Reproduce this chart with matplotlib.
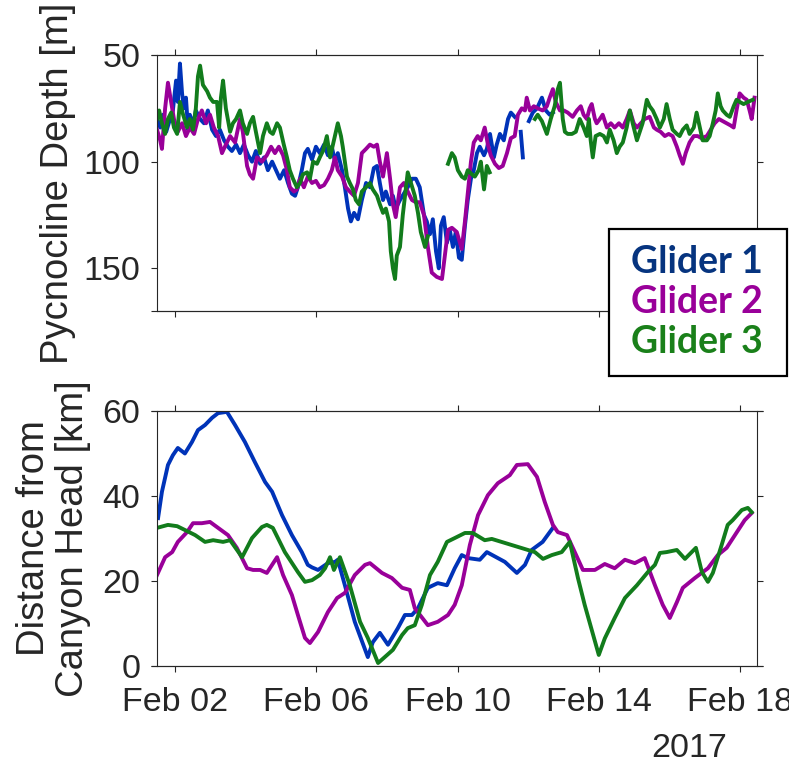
import numpy as np
import pandas as pd
import matplotlib
matplotlib.use("Agg")
import matplotlib.pyplot as plt
import matplotlib.dates as mdates
from matplotlib.patches import Rectangle

plt.rcParams["font.family"] = ["Liberation Sans", "DejaVu Sans"]

nan = np.nan

# ---- pycnocline depth [m] (day of February 2017) ----
g1_depth_day = [1.49, 1.58, 1.66, 1.75, 1.86, 1.94, 2.03, 2.08, 2.14, 2.20, 2.25, 2.31, 2.37, 2.42, 2.51, 2.59,
                2.71, 2.82, 2.93, 3.05, 3.16, 3.27, 3.39, 3.50, 3.61, 3.73, 3.84, 3.95, 4.07, 4.18, 4.29, 4.41,
                4.52, 4.63, 4.75, 4.86, 4.97, 5.09, 5.20, 5.31, 5.40, 5.48, 5.59, 5.68, 5.76, 5.88, 5.99, 6.10,
                6.22, 6.33, 6.44, 6.53, 6.61, 6.73, 6.81, 6.90, 6.98, 7.07, 7.18, 7.29, 7.41, 7.52, 7.63, 7.72,
                7.80, 7.89, 7.97, 8.09, 8.17, 8.25, 8.37, 8.48, 8.59, 8.71, 8.82, 8.93, 9.05, 9.13, 9.22, 9.30,
                9.39, 9.47, 9.53, 9.61, 9.70, 9.78, 9.87, 9.95, 10.04, 10.12, 10.21, 10.29, 10.38, 10.46, 10.55,
                10.63, 10.75, 10.83, 10.92, 11.03, 11.11, 11.20, 11.31, 11.43, 11.51, 11.62,
                11.70, 11.79, 11.85, 11.94, 12.02, 12.13, 12.25, 12.39, 12.50, 12.61, 12.70]
g1_depth = [80, 84, 78, 86, 80, 76, 62, 72, 54, 68, 75, 70, 85, 78, 83, 76,
            80, 82, 76, 85, 88, 85, 90, 93, 95, 92, 96, 92, 97, 100, 95, 101,
            98, 104, 100, 104, 108, 104, 110, 115, 116, 112, 104, 96, 94, 99, 93, 96,
            92, 97, 93, 100, 96, 104, 112, 122, 128, 124, 127, 118, 110, 112, 103, 102,
            110, 118, 114, 120, 116, 122, 118, 115, 112, 108, 108, 112, 125, 128, 134, 127,
            142, 150, 130, 126, 138, 132, 140, 133, 145, 146, 130, 118, 108, 104, 96,
            93, 97, 94, 87, 98, 92, 87, 90, 80, 77, 79,
            nan, 86, 98, nan, 81, 77, 75, 70, 76, 78, 77]

g2_depth_day = [1.49, 1.58, 1.63, 1.72, 1.80, 1.89, 1.97, 2.08, 2.20, 2.31, 2.42, 2.54, 2.65, 2.76, 2.88, 2.99,
                3.10, 3.22, 3.33, 3.44, 3.56, 3.70, 3.84, 3.92, 4.04, 4.12, 4.21, 4.32, 4.46, 4.60, 4.72, 4.83,
                4.94, 5.06, 5.17, 5.25, 5.37, 5.45, 5.54, 5.65, 5.76, 5.88, 5.99, 6.10, 6.22, 6.33, 6.44, 6.53,
                6.61, 6.73, 6.84, 6.95, 7.07, 7.18, 7.29, 7.41, 7.52, 7.63, 7.72, 7.80, 7.89, 8.00, 8.09, 8.17,
                8.25, 8.37, 8.48, 8.59, 8.71, 8.82, 8.93, 9.05, 9.16, 9.27, 9.41, 9.56, 9.67, 9.73, 9.84, 9.98,
                10.12, 10.21, 10.29, 10.38, 10.46, 10.57, 10.66, 10.77, 10.86, 10.94, 11.06, 11.17, 11.28, 11.40,
                11.51, 11.62, 11.71, 11.82, 11.91, 11.96, 12.05, 12.16, 12.27, 12.41, 12.53, 12.61, 12.70, 12.78,
                12.90, 13.01, 13.12, 13.26, 13.38, 13.49, 13.57, 13.66, 13.74, 13.80, 13.89, 13.94, 14.03, 14.11,
                14.23, 14.34, 14.45, 14.57, 14.68, 14.79, 14.88, 14.99, 15.08, 15.19, 15.30, 15.44, 15.56, 15.64,
                15.75, 15.87, 15.98, 16.09, 16.21, 16.29, 16.38, 16.46, 16.57, 16.69, 16.80, 16.91, 17.06, 17.17,
                17.28, 17.40, 17.51, 17.62, 17.73, 17.82, 17.90, 17.99, 18.10, 18.19, 18.27, 18.33, 18.41]
g2_depth = [85, 90, 94, 75, 63, 72, 80, 86, 82, 88, 84, 87, 80, 76, 82, 78,
            84, 88, 96, 92, 88, 91, 80, 86, 102, 106, 108, 98, 100, 97, 93, 96,
            93, 97, 104, 112, 114, 113, 108, 112, 107, 110, 109, 112, 111, 108, 104, 98,
            104, 107, 112, 114, 116, 110, 96, 94, 92, 93, 92, 100, 107, 96, 108, 120,
            126, 112, 110, 114, 118, 119, 119, 125, 140, 152, 154, 155, 140, 132, 131, 133,
            141, 128, 115, 100, 91, 88, 90, 84, 92, 97, 101, 103, 102, 96,
            89, 88, 78, 75, 76, 70, 76, 74, 75, 76, 74, 70, 66, 72,
            76, 76, 77, 79, 76, 74, 78, 80, 75, 73, 80, 82, 80, 78,
            84, 82, 84, 82, 84, 80, 76, 82, 84, 82, 80, 79, 84, 85,
            86, 88, 87, 88, 93, 97, 101, 96, 91, 88, 88, 89, 88, 85,
            82, 80, 81, 82, 83, 84, 76, 68, 70, 71, 76, 80, 70]

g3_depth_day = [1.49, 1.55, 1.63, 1.72, 1.80, 1.89, 1.97, 2.06, 2.14, 2.23, 2.34, 2.42, 2.51, 2.59, 2.65, 2.71,
                2.79, 2.91, 2.99, 3.08, 3.19, 3.25, 3.30, 3.36, 3.44, 3.56, 3.64, 3.73, 3.84, 3.92, 4.04, 4.12,
                4.21, 4.29, 4.41, 4.49, 4.60, 4.69, 4.77, 4.89, 4.97, 5.08, 5.17, 5.25, 5.34, 5.45, 5.54, 5.62,
                5.74, 5.82, 5.91, 6.02, 6.10, 6.19, 6.30, 6.39, 6.50, 6.61, 6.70, 6.75, 6.87, 6.95, 7.04, 7.12,
                7.21, 7.29, 7.41, 7.52, 7.60, 7.72, 7.80, 7.89, 7.97, 8.06, 8.11, 8.17, 8.23, 8.28, 8.37, 8.45,
                8.54, 8.59, 8.68, 8.79, 8.88, 8.96, 9.08, 9.16,
                9.40,
                9.73, 9.84, 9.92, 10.01, 10.12, 10.21, 10.29, 10.41, 10.49, 10.60, 10.66, 10.75, 10.83, 10.91,
                11.50,
                12.19, 12.27, 12.39, 12.53, 12.64, 12.75, 12.84, 12.90, 12.98, 13.04, 13.12, 13.24, 13.35, 13.46,
                13.57, 13.66, 13.72, 13.77, 13.83, 13.91, 14.03, 14.14, 14.23, 14.31, 14.42, 14.51, 14.59, 14.68,
                14.79, 14.88, 14.96, 15.08, 15.16, 15.24, 15.36, 15.44, 15.53, 15.64, 15.73, 15.84, 15.92, 16.01,
                16.09, 16.21, 16.29, 16.38, 16.49, 16.57, 16.69, 16.77, 16.86, 16.94, 17.06, 17.14, 17.23, 17.31,
                17.37, 17.45, 17.51, 17.62, 17.71, 17.82, 17.90, 17.99, 18.10, 18.22, 18.36]
g3_depth = [80, 76, 82, 87, 80, 77, 84, 87, 72, 78, 84, 80, 85, 75, 60, 55,
            64, 67, 70, 72, 72, 84, 70, 62, 75, 86, 82, 80, 76, 82, 87, 82,
            79, 86, 96, 88, 82, 86, 87, 82, 84, 92, 98, 104, 108, 112, 110, 106,
            105, 108, 100, 101, 98, 95, 88, 98, 90, 82, 88, 93, 107, 110, 113, 118,
            120, 114, 112, 110, 113, 116, 120, 124, 122, 128, 142, 150, 155, 144, 140, 125,
            112, 105, 110, 116, 124, 133, 140, 135,
            nan,
            101, 96, 98, 104, 107, 108, 104, 106, 107, 104, 100, 113, 102, 105,
            nan,
            80, 78, 81, 87, 80, 74, 66, 63, 80, 86, 87, 87, 86, 80,
            84, 88, 80, 90, 98, 88, 87, 88, 91, 85, 90, 96, 93, 91,
            84, 76, 82, 90, 86, 82, 71, 74, 76, 80, 84, 80, 73, 80,
            85, 87, 88, 85, 83, 87, 84, 77, 84, 90, 90, 88, 82, 76,
            68, 74, 76, 78, 79, 74, 71, 72, 73, 72, 71]

# ---- distance from canyon head [km] ----
g1_dist_day = [1.52, 1.63, 1.80, 1.94, 2.08, 2.28, 2.48, 2.65, 2.85, 3.05, 3.22, 3.47, 3.70, 3.98, 4.26, 4.55,
               4.75, 5.03, 5.31, 5.59, 5.76, 5.88, 6.05, 6.33, 6.53, 6.61, 6.81, 7.09, 7.46, 7.60, 7.80, 8.03,
               8.31, 8.51, 8.71, 8.88, 9.16, 9.44, 9.70, 9.92, 10.12, 10.29, 10.63, 10.83, 11.14, 11.34, 11.68,
               11.91, 12.10, 12.41, 12.70]
g1_dist = [34.8, 41, 47.3, 49.6, 51.3, 50, 52.7, 55.5, 56.7, 58.4, 59.5, 59.8, 56.7, 52.7, 48, 43.3,
           41, 35.5, 30.8, 26.8, 23.8, 23.2, 22.6, 24.2, 24.5, 25, 19, 10.4, 2.1, 5.6, 7.8, 5,
           8.9, 12, 12, 13.6, 18.4, 19.5, 19, 23, 26.1, 25.4, 25, 26.8, 25.4, 24.5, 21.9,
           23.8, 27.3, 29.2, 32.5]

g2_dist_day = [1.49, 1.72, 1.92, 2.08, 2.34, 2.51, 2.76, 2.99, 3.22, 3.50, 3.75, 4.04, 4.21, 4.41, 4.60, 4.89,
               5.06, 5.31, 5.48, 5.68, 5.82, 6.05, 6.33, 6.59, 6.81, 7.09, 7.38, 7.52, 7.86, 8.14, 8.43, 8.65,
               8.79, 9.16, 9.44, 9.73, 9.92, 10.12, 10.35, 10.58, 10.86, 11.14, 11.48, 11.68, 11.99, 12.25,
               12.47, 12.70, 12.84, 13.10, 13.32, 13.55, 13.89, 14.17, 14.45, 14.74, 15.02, 15.30, 15.59, 15.81,
               16.01, 16.21, 16.38, 16.72, 17.09, 17.37, 17.62, 17.91, 18.13, 18.33]
g2_dist = [21.4, 25.6, 26.8, 29.2, 31.5, 33.6, 33.6, 33.9, 32.5, 30.8, 27.8, 23, 22.6, 22.6, 21.9, 25.6,
           21.4, 16.7, 12, 6.6, 5.4, 8, 12.7, 16, 17.2, 21.4, 23.8, 24.2, 21.9, 20.7, 18.4, 17.9,
           13.6, 9.6, 10.4, 12, 14.4, 19, 28.5, 35.5, 40.2, 43, 44.9, 47.3, 47.5, 44.5,
           38.6, 33.2, 31.5, 30.8, 26.8, 22.6, 22.6, 24, 23, 25, 24.2, 25.4, 19, 14.4,
           11.3, 15, 18.4, 20.7, 23, 26.1, 27.8, 31.5, 34.3, 36]

g3_dist_day = [1.49, 1.80, 2.06, 2.28, 2.57, 2.85, 3.08, 3.36, 3.56, 3.90, 4.18, 4.46, 4.60, 4.77, 5.11, 5.48,
               5.68, 5.88, 6.10, 6.25, 6.39, 6.50, 6.67, 6.95, 7.24, 7.46, 7.75, 7.94, 8.17, 8.43, 8.59, 8.79,
               8.99, 9.22, 9.44, 9.70, 9.92, 10.21, 10.43, 10.77, 10.97, 12.19, 12.42, 12.67, 12.95, 13.18,
               13.41, 13.60, 14.00, 14.17, 14.45, 14.74, 15.08, 15.39, 15.59, 15.73, 15.92, 16.21, 16.44, 16.75,
               16.92, 17.09, 17.23, 17.48, 17.65, 17.79, 18.05, 18.22, 18.33]
g3_dist = [32.5, 33.2, 32.9, 32, 30.8, 29.2, 29.6, 29.2, 29.6, 25.6, 30.1, 32.7, 33.2, 32.5, 26.8, 22.1,
           19.8, 20.2, 21.4, 23, 25.6, 22.6, 25.6, 19, 10.4, 6.6, 0.7, 2.1, 3.8, 7.3, 8.9, 9.6,
           14.4, 21.4, 24.5, 29.2, 30.1, 31.3, 31.3, 29.6, 29.9, 26.8, 25.2, 26.1, 26.8, 29.2,
           20.7, 14.4, 2.6, 6.5, 11.3, 16, 19, 22.1, 23.8, 26.6, 26.8, 27.3, 25.2, 27.8,
           22.1, 19.8, 21.9, 28.5, 33.2, 34.3, 36.7, 37.2, 36.2]

glider_names = ["Glider 1", "Glider 2", "Glider 3"]
line_colors = ["#0033b8", "#990099", "#127c1c"]
label_colors = ["#06347f", "#990099", "#1a801a"]
x_tick_days = [2, 6, 10, 14, 18]
depth_ticks = [50, 100, 150]
dist_ticks = [0, 20, 40, 60]

FRAME = "#262626"


def feb(days):
    return pd.Timestamp("2017-02-01") + pd.to_timedelta(np.asarray(days, float) - 1.0, unit="D")


W, H = 789, 761
fig = plt.figure(figsize=(W / 100, H / 100), dpi=100)
ax1 = fig.add_axes([157 / W, 1 - 311 / H, 600 / W, 256 / H])
ax2 = fig.add_axes([157 / W, 1 - 666 / H, 600 / W, 255 / H])

lw = 2.8
ax1.plot(feb(g1_depth_day), g1_depth, color=line_colors[0], lw=lw)
ax1.plot(feb(g2_depth_day), g2_depth, color=line_colors[1], lw=lw)
ax1.plot(feb(g3_depth_day), g3_depth, color=line_colors[2], lw=lw)

ax2.plot(feb(g1_dist_day), g1_dist, color=line_colors[0], lw=lw)
ax2.plot(feb(g2_dist_day), g2_dist, color=line_colors[1], lw=lw)
ax2.plot(feb(g3_dist_day), g3_dist, color=line_colors[2], lw=lw)

ax1.set_ylim(170, 50)
ax1.set_yticks(depth_ticks)
ax2.set_ylim(0, 60)
ax2.set_yticks(dist_ticks)

ext = 5.7 / 600
for ax in (ax1, ax2):
    ax.set_xlim(feb(1.49), feb(18.48))
    ax.set_xticks(feb(x_tick_days))
    ax.xaxis.set_major_formatter(mdates.DateFormatter("%b %d"))
    for s in ax.spines.values():
        s.set_color(FRAME)
        s.set_linewidth(0.8)
    ax.tick_params(direction="out", length=4, width=0.8, color=FRAME,
                   top=True, right=True, labelsize=24.5, labelcolor=FRAME)
    ax.tick_params(axis="y", pad=8)
    ax.tick_params(axis="x", pad=11)
    # axis lines run out to the tick ends
    for yy in (0, 1):
        ax.plot([-ext, 1 + ext], [yy, yy], transform=ax.transAxes, color=FRAME,
                lw=0.8, clip_on=False, solid_capstyle="butt")

ax1.tick_params(labelbottom=False)

ax1.set_ylabel("Pycnocline Depth [m]", fontsize=27.5, color=FRAME, va="center")
ax1.yaxis.set_label_coords(-0.165, 0.5)
ax2.set_ylabel("Distance from\nCanyon Head [km]", fontsize=27.5, color=FRAME, va="center",
               linespacing=1.12)
ax2.yaxis.set_label_coords(-0.172, 0.5)

fig.text(689 / W, 1 - 757 / H, "2017", fontsize=24.5, color=FRAME, ha="center", va="baseline")

# legend box with coloured labels
fig.patches.append(Rectangle((609 / W, 1 - 376 / H), 178 / W, 147 / H, transform=fig.transFigure,
                             facecolor="white", edgecolor="black", lw=1.6, zorder=5))
for i, (name, col) in enumerate(zip(glider_names, label_colors)):
    fig.text(697 / W, 1 - (273 + 40 * i) / H, name, fontsize=27, fontweight="bold",
             family=["Lato", "DejaVu Sans"], color=col, ha="center", va="baseline", zorder=6)

fig.savefig("out.png", dpi=100)
